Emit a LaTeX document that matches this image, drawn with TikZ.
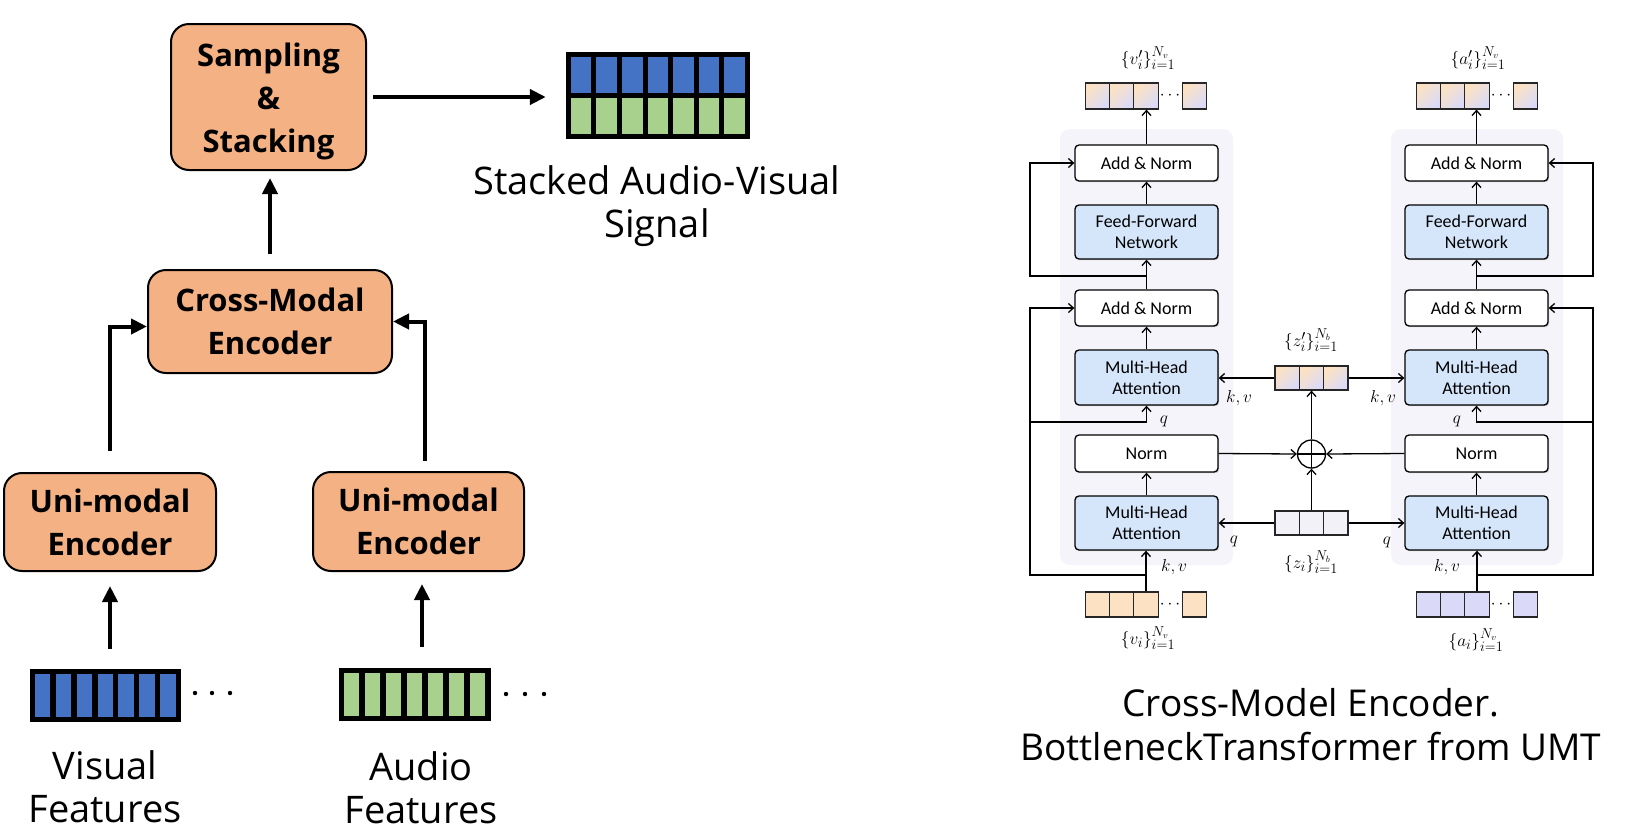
\documentclass[tikz,border=0pt]{standalone}
\usepackage{fontspec}
\setmainfont{Open Sans}
\newfontfamily\calfont{Carlito}
\usetikzlibrary{arrows.meta,shadows,calc}
\definecolor{orangebox}{HTML}{F4B183}
\definecolor{vblue}{HTML}{4472C4}
\definecolor{agreen}{HTML}{A9D18E}
\definecolor{panelgray}{HTML}{F4F4FA}
\definecolor{mhablue}{HTML}{D5E6FB}
\definecolor{peach}{HTML}{FCE2C2}
\definecolor{lav}{HTML}{DADAF8}
\definecolor{zgray}{HTML}{F1F1F7}
\begin{document}
\begin{tikzpicture}[x=1pt,y=-1pt,
  bigbox/.style={draw=black,line width=2pt,fill=orangebox,rounded corners=18pt,align=center,inner sep=0pt,
    font=\bfseries\fontsize{31}{43}\selectfont},
  thickarrow/.style={line width=4pt,-{Triangle[length=16pt,width=15pt]}},
  biglabel/.style={align=center,inner sep=0pt,font=\fontsize{38}{43}\selectfont},
  captext/.style={align=center,inner sep=0pt,font=\fontsize{37}{44}\selectfont},
  bar/.style={fill=black,draw=none,inner sep=0pt},
  sbox/.style={draw=black,line width=1.3pt,rounded corners=4pt,align=center,inner sep=0pt,
    minimum width=143pt,font=\calfont\fontsize{18}{21}\selectfont,
    drop shadow={shadow xshift=1.2pt,shadow yshift=-1.2pt,fill=black!40,opacity=0.5}},
  whitebox/.style={sbox,fill=white},
  bluebox/.style={sbox,fill=mhablue},
  gcell/.style={draw=black!85,line width=1.2pt,minimum width=24.3pt,minimum height=26pt,inner sep=0pt,
    top color=peach,bottom color=lav,shading angle=45},
  pcell/.style={draw=black!85,line width=1.2pt,minimum width=24.3pt,minimum height=25pt,inner sep=0pt,fill=peach},
  lcell/.style={draw=black!85,line width=1.2pt,minimum width=24.3pt,minimum height=25pt,inner sep=0pt,fill=lav},
  zcell/.style={draw=black!85,line width=1.2pt,minimum width=24.3pt,minimum height=25pt,inner sep=0pt,fill=zgray},
  tarrow/.style={line width=1.3pt,-{Straight Barb[length=5pt,width=9pt]}},
  mlabel/.style={inner sep=0pt,font=\fontsize{19}{22}\selectfont},
  slabel/.style={inner sep=0pt,font=\fontsize{19}{22}\selectfont},
  dotsnode/.style={inner sep=0pt,font=\bfseries\fontsize{17}{17}\selectfont}
]
\fill[white] (0,0) rectangle (1640,839);
\useasboundingbox (0,0) rectangle (1640,839);

% ================= LEFT DIAGRAM =================
\node[bigbox,minimum width=195pt,minimum height=146pt] (samp) at (268.5,97) {\rule{0pt}{32pt}Sampling\\\&\\Stacking};
\node[bigbox,minimum width=244pt,minimum height=103pt] (cme) at (270,321.5) {Cross-Modal\\Encoder};
\node[bigbox,minimum width=212pt,minimum height=98pt] (uniL) at (110,522) {Uni-modal\\Encoder};
\node[bigbox,minimum width=211pt,minimum height=99pt] (uniR) at (418.5,521.5) {Uni-modal\\Encoder};

% stacked signal
\node[bar,minimum width=184pt,minimum height=87pt] (sig) at (658,95.5) {};
\foreach \i in {0,...,6} {
  \fill[vblue] ($(sig.north west)+(5+\i*25.57,5)$) rectangle ++(20.6,36);
  \fill[agreen] ($(sig.north west)+(5+\i*25.57,46)$) rectangle ++(20.6,36);
}
% visual features bar
\node[bar,minimum width=151pt,minimum height=53pt] (vis) at (105.5,695.5) {};
\foreach \i in {0,...,6} \fill[vblue] ($(vis.north west)+(5+\i*20.92,5)$) rectangle ++(15.5,43);
% audio features bar
\node[bar,minimum width=152pt,minimum height=53pt] (aud) at (415,694.5) {};
\foreach \i in {0,...,6} \fill[agreen] ($(aud.north west)+(5+\i*21.0,5)$) rectangle ++(15.6,43);

\foreach \x in {195,212,230} \fill (\x,693) circle (2.2);
\foreach \x in {506,525,544} \fill (\x,694) circle (2.2);

\draw[thickarrow,shorten <=6pt,shorten >=20pt] (samp.east) -- (samp.east -| sig.west);
\draw[thickarrow,shorten <=15pt,shorten >=7pt] (cme.north) -- (cme.north |- samp.south);
\draw[thickarrow,shorten <=21pt] (uniL.north) |- ([yshift=-5pt]cme.west);
\draw[thickarrow,shorten <=10pt] ($(uniR.north)+(6.5,0)$) |- (cme.east);
\draw[thickarrow,shorten <=20pt,shorten >=14pt] ($(vis.north)+(4.5,0)$) -- (uniL.south);
\draw[thickarrow,shorten <=21pt,shorten >=12pt] ($(aud.north)+(7,0)$) -- ($(uniR.south)+(3.5,0)$);

\node[biglabel] (vislab) at (105,787) {Visual\\Features};
\node[biglabel] (audlab) at (421,788) {Audio\\Features};
\node[biglabel] (siglab) at (657,206) {Stacked Audio-Visual\\Signal};

% ================= RIGHT DIAGRAM =================
\fill[panelgray,rounded corners=10pt] (1060,129) rectangle (1233,565);
\fill[panelgray,rounded corners=10pt] (1391,129) rectangle (1563,565);

% left column
\node[whitebox,minimum height=36pt] (an1L) at (1146.5,163) {Add \& Norm};
\node[bluebox,minimum height=54pt] (ffnL) at (1146.5,232) {Feed-Forward\\Network};
\node[whitebox,minimum height=36pt] (an2L) at (1146.5,308) {Add \& Norm};
\node[bluebox,minimum height=55pt] (mha1L) at (1146.5,377.5) {Multi-Head\\Attention};
\node[whitebox,minimum height=37pt] (normL) at (1146.5,453.5) {Norm};
\node[bluebox,minimum height=54pt] (mha2L) at (1146.5,523) {Multi-Head\\Attention};
% right column
\node[whitebox,minimum height=36pt] (an1R) at (1476.5,163) {Add \& Norm};
\node[bluebox,minimum height=54pt] (ffnR) at (1476.5,232) {Feed-Forward\\Network};
\node[whitebox,minimum height=36pt] (an2R) at (1476.5,308) {Add \& Norm};
\node[bluebox,minimum height=55pt] (mha1R) at (1476.5,377.5) {Multi-Head\\Attention};
\node[whitebox,minimum height=37pt] (normR) at (1476.5,453.5) {Norm};
\node[bluebox,minimum height=54pt] (mha2R) at (1476.5,523) {Multi-Head\\Attention};

% token rows
\node[gcell] (vo1) at (1097.4,96) {};
\node[gcell] (vo2) at (1121.7,96) {};
\node[gcell] (vo3) at (1146,96) {};
\node[dotsnode] (vodots) at (1170,96) {$\cdots$};
\node[gcell] (vo4) at (1194.5,96) {};
\node[gcell] (ao1) at (1428.4,96) {};
\node[gcell] (ao2) at (1452.7,96) {};
\node[gcell] (ao3) at (1477,96) {};
\node[dotsnode] (aodots) at (1501,96) {$\cdots$};
\node[gcell] (ao4) at (1525.5,96) {};

\node[pcell] (vi1) at (1097.4,604.5) {};
\node[pcell] (vi2) at (1121.7,604.5) {};
\node[pcell] (vi3) at (1146,604.5) {};
\node[dotsnode] (vidots) at (1170,604.5) {$\cdots$};
\node[pcell] (vi4) at (1194.5,604.5) {};
\node[lcell] (ai1) at (1428.4,604.5) {};
\node[lcell] (ai2) at (1452.7,604.5) {};
\node[lcell] (ai3) at (1477,604.5) {};
\node[dotsnode] (aidots) at (1501,604.5) {$\cdots$};
\node[lcell] (ai4) at (1525.5,604.5) {};

\node[gcell,minimum height=24pt] (zp1) at (1287.2,378) {};
\node[gcell,minimum height=24pt] (zp2) at (1311.5,378) {};
\node[gcell,minimum height=24pt] (zp3) at (1335.8,378) {};
\node[zcell,minimum height=24pt] (z1) at (1287.2,523) {};
\node[zcell,minimum height=24pt] (z2) at (1311.5,523) {};
\node[zcell,minimum height=24pt] (z3) at (1335.8,523) {};

\node[draw,circle,line width=1.3pt,minimum size=28pt,inner sep=0pt,
  path picture={\draw[line width=1.3pt] (path picture bounding box.north) -- (path picture bounding box.south)
  (path picture bounding box.west) -- (path picture bounding box.east);}] (plus) at (1311.5,454) {};

% coordinates for junctions
\coordinate (jL1) at (1146,575);
\coordinate (jL2) at (1146.5,276);
\coordinate (qL) at (1030,422);
\coordinate (lxL) at (1030,0);
\coordinate (jR1) at (1477,575);
\coordinate (jR2) at (1476.5,276);
\coordinate (qR) at (1593,422);
\coordinate (lxR) at (1593,0);

% left column connectors
\draw[tarrow] (vi3.north) -- (vi3.north |- mha2L.south);
\draw[tarrow] (mha2L) -- (normL);
\draw[tarrow] (mha1L) -- (an2L);
\draw[tarrow] (an2L) -- (ffnL);
\draw[tarrow] (ffnL) -- (an1L);
\draw[tarrow] (an1L.north) -- (an1L.north |- vo3.south);
\draw[tarrow] (jL1) -- (jL1 -| lxL) |- (an2L.west);
\draw[tarrow] (qL) -| (mha1L.south);
\draw[tarrow] (jL2) -- (jL2 -| lxL) |- (an1L.west);
% right column connectors
\draw[tarrow] (ai3.north) -- (ai3.north |- mha2R.south);
\draw[tarrow] (mha2R) -- (normR);
\draw[tarrow] (mha1R) -- (an2R);
\draw[tarrow] (an2R) -- (ffnR);
\draw[tarrow] (ffnR) -- (an1R);
\draw[tarrow] (an1R.north) -- (an1R.north |- ao3.south);
\draw[tarrow] (jR1) -- (jR1 -| lxR) |- (an2R.east);
\draw[tarrow] (qR) -| (mha1R.south);
\draw[tarrow] (jR2) -- (jR2 -| lxR) |- (an1R.east);
% bottleneck connectors
\draw[tarrow] (zp1.west) -- (mha1L.east |- zp1.west);
\draw[tarrow] (zp3.east) -- (mha1R.west |- zp3.east);
\draw[tarrow] (z1.west) -- (mha2L.east |- z1.west);
\draw[tarrow] (z3.east) -- (mha2R.west |- z3.east);
\draw[tarrow] (z2.north) -- (plus.south);
\draw[tarrow] (plus.north) -- (zp2.south);
\draw[tarrow] (normL.east) -- (plus.west);
\draw[tarrow] (normR.west) -- (plus.east);

% math labels
\node[mlabel] (kvL1) at (1239,398) {$k,v$};
\node[mlabel] (kvR1) at (1383,398) {$k,v$};
\node[mlabel] (qL1) at (1164,421) {$q$};
\node[mlabel] (qR1) at (1457,421) {$q$};
\node[mlabel] (qL2) at (1234,541) {$q$};
\node[mlabel] (qR2) at (1387,542) {$q$};
\node[mlabel] (kvL2) at (1174,567) {$k,v$};
\node[mlabel] (kvR2) at (1447,567) {$k,v$};

\node[slabel] (volab) at (1148,58) {$\{v'_i\}_{i=1}^{N_v}$};
\node[slabel] (aolab) at (1478,58) {$\{a'_i\}_{i=1}^{N_v}$};
\node[slabel] (zplab) at (1311,340) {$\{z'_i\}_{i=1}^{N_b}$};
\node[slabel] (zlab) at (1311,562) {$\{z_i\}_{i=1}^{N_b}$};
\node[slabel] (vilab) at (1148,638) {$\{v_i\}_{i=1}^{N_v}$};
\node[slabel] (ailab) at (1476,640) {$\{a_i\}_{i=1}^{N_v}$};

\node[captext] (cap) at (1311,725) {Cross-Model Encoder.\\BottleneckTransformer from UMT};
\end{tikzpicture}
\end{document}
